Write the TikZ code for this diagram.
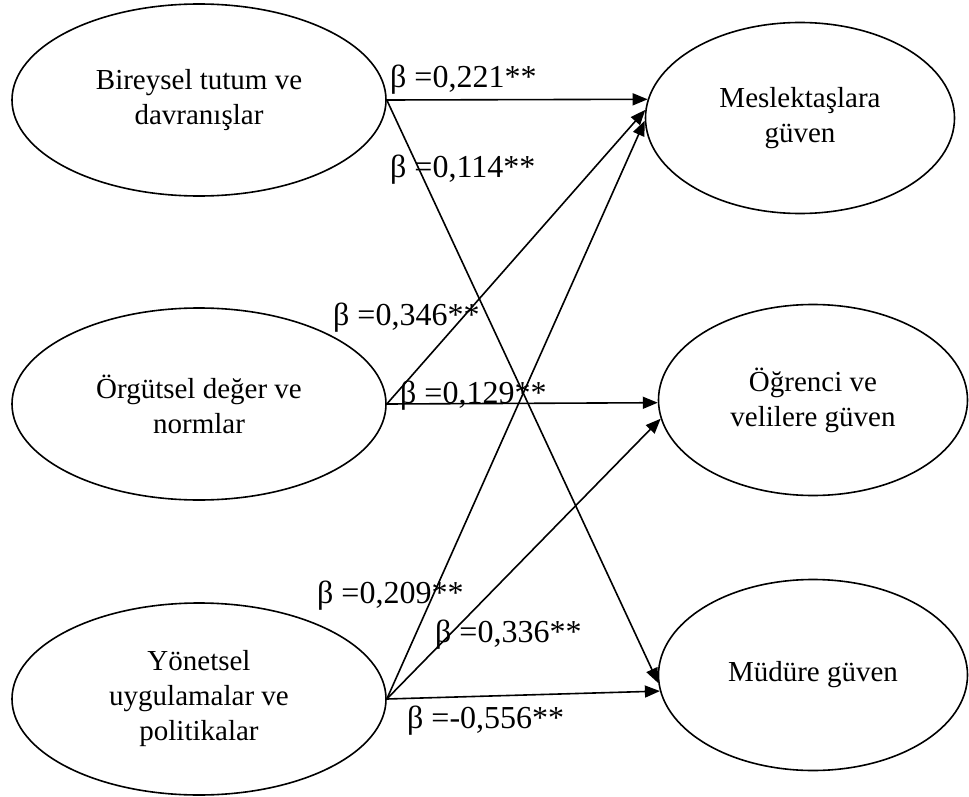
\documentclass[tikz,border=0pt]{standalone}
\usepackage{fontspec}
\setmainfont{Liberation Serif}
\usetikzlibrary{shapes.geometric,arrows.meta}

\tikzset{
  factor/.style={draw, ellipse, line width=1.6pt, minimum width=374pt, minimum height=192pt,
    inner sep=0pt, align=center, font=\fontsize{29pt}{35pt}\selectfont},
  outcome/.style={factor, minimum width=309pt, minimum height=191pt},
  effect/.style={line width=1.6pt, -{Triangle[length=15pt,width=12pt]}},
  coef/.style={anchor=base west, inner sep=0pt, font=\fontsize{32pt}{38pt}\selectfont}
}

\begin{document}
\begin{tikzpicture}[x=1pt,y=-1pt]
    % Fix the frame
    \useasboundingbox (0,0) rectangle (969,797);
    % Draw the predictors
    \node[factor] (bireysel) at (199,100) {Bireysel tutum ve\\davranışlar};
    \node[factor] (orgutsel) at (199,404) {Örgütsel değer ve\\normlar};
    \node[factor] (yonetsel) at (199,699) {Yönetsel\\uygulamalar ve\\politikalar};
    % Draw the outcomes
    \node[outcome] (meslek) at (800,118) {Meslektaşlara\\güven};
    \node[outcome] (ogrenci) at (813,400) {Öğrenci ve\\velilere güven};
    \node[outcome] (mudur) at (813,675) {Müdüre güven};
    % Draw the paths
    \draw[effect] (bireysel.east) -- (meslek.173);
    \draw[effect] (bireysel.east) -- (mudur.183);
    \draw[effect] (orgutsel.east) -- (meslek.177);
    \draw[effect] (orgutsel.east) -- (ogrenci.181.5);
    \draw[effect] (yonetsel.east) -- (meslek.181.5);
    \draw[effect] (yonetsel.east) -- (ogrenci.187);
    \draw[effect] (yonetsel.east) -- (mudur.186);
    % Label the coefficients
    \node[coef] (b221) at (390,88) {β =0,221**};
    \node[coef] (b114) at (390,178) {β =0,114**};
    \node[coef] (b346) at (333,325) {β =0,346**};
    \node[coef] (b129) at (400,403) {β =0,129**};
    \node[coef] (b209) at (317,603) {β =0,209**};
    \node[coef] (b336) at (435,642) {β =0,336**};
    \node[coef] (b556) at (407,728) {β =-0,556**};
\end{tikzpicture}
\end{document}
